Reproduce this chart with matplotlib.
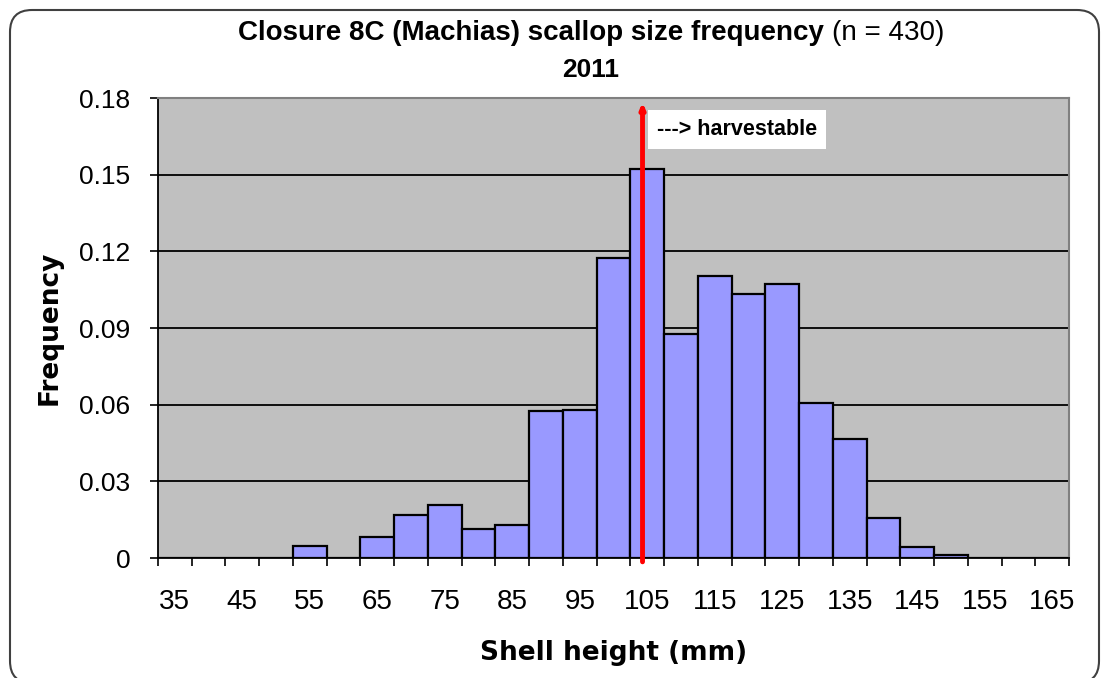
import numpy as np
import matplotlib.pyplot as plt
from matplotlib.patches import FancyBboxPatch

# data (relative frequency per 5 mm shell-height class)
size_class = [35, 40, 45, 50, 55, 60, 65, 70, 75, 80, 85, 90, 95, 100,
              105, 110, 115, 120, 125, 130, 135, 140, 145, 150, 155, 160, 165]
freq = [0, 0, 0, 0, 0.0047, 0, 0.0084, 0.0167, 0.0207, 0.0115, 0.0128,
        0.0574, 0.0580, 0.1175, 0.1521, 0.0876, 0.1103, 0.1034, 0.1073,
        0.0608, 0.0466, 0.0157, 0.0045, 0.0013, 0, 0, 0]
x_labels = [35, 45, 55, 65, 75, 85, 95, 105, 115, 125, 135, 145, 155, 165]
y_ticks = [0, 0.03, 0.06, 0.09, 0.12, 0.15, 0.18]
harvest_size = 104.3

plt.rcParams['font.family'] = ['Liberation Sans', 'DejaVu Sans']

fig = plt.figure(figsize=(11.01, 6.78), dpi=100)
ax = fig.add_axes([158 / 1101, 1 - 558 / 678, (1069 - 158) / 1101, (558 - 98) / 678])
ax.set_facecolor('#C0C0C0')

# horizontal gridlines
for v in y_ticks[1:-1]:
    ax.axhline(v, color='black', lw=1.3, zorder=1)

ax.bar(size_class, freq, width=5, color='#9999FF', edgecolor='black',
       linewidth=1.6, zorder=2)

ax.set_xlim(32.5, 167.5)
ax.set_ylim(0, 0.18)

ax.set_xticks(x_labels)
ax.set_xticklabels([str(v) for v in x_labels])
ax.set_xticks(np.arange(32.5, 168, 5), minor=True)
ax.tick_params(axis='x', which='major', length=0, pad=22, labelsize=20)
ax.tick_params(axis='x', which='minor', length=6, width=1.2, direction='out')
ax.set_yticks(y_ticks)
ax.set_yticklabels(['0', '0.03', '0.06', '0.09', '0.12', '0.15', '0.18'])
ax.tick_params(axis='y', length=6, width=1.2, direction='out', pad=14, labelsize=19)

for s in ['left', 'bottom']:
    ax.spines[s].set_color('black')
    ax.spines[s].set_linewidth(1.3)
for s in ['top', 'right']:
    ax.spines[s].set_color('#808080')
    ax.spines[s].set_linewidth(1.5)

ax.set_ylabel('Frequency', fontsize=19, fontweight='bold', labelpad=12,
              family='DejaVu Sans')
ax.set_xlabel('Shell height (mm)', fontsize=19, fontweight='bold', labelpad=18,
              family='DejaVu Sans')

# harvestable size line
ax.annotate('', xy=(harvest_size, 0.1785), xytext=(harvest_size, -0.0015),
            arrowprops=dict(arrowstyle='-|>,head_length=0.3,head_width=0.12',
                            color='red', lw=3.5, shrinkA=0, shrinkB=0),
            annotation_clip=False, zorder=4)
ax.text(106.4, 0.1675, '---> harvestable', fontsize=15.5, fontweight='bold',
        va='center', ha='left',
        bbox=dict(boxstyle='square,pad=0.42', fc='white', ec='none'), zorder=5)

# title: bold part plus normal part, centred together
t1 = fig.text(0.5, 1 - 33 / 678, 'Closure 8C (Machias) scallop size frequency ',
              fontsize=20, fontweight='bold', ha='left', va='center')
t2 = fig.text(0.5, 1 - 33 / 678, '(n = 430)', fontsize=20, ha='left', va='center')
fig.canvas.draw()
r = fig.canvas.get_renderer()
w1 = t1.get_window_extent(r).width
w2 = t2.get_window_extent(r).width
start = 591 - (w1 + w2) / 2
t1.set_x(start / 1101)
t2.set_x((start + w1) / 1101)
fig.text(591 / 1101, 1 - 70 / 678, '2011', fontsize=19, fontweight='bold',
         ha='center', va='center')

# rounded chart border
border = FancyBboxPatch((0.10, -0.05), 10.89, 6.73,
                        boxstyle='round,pad=0,rounding_size=0.22',
                        transform=fig.dpi_scale_trans, fc='none',
                        ec='#404040', lw=1.5)
fig.patches.append(border)

fig.savefig('out.png', dpi=100)
